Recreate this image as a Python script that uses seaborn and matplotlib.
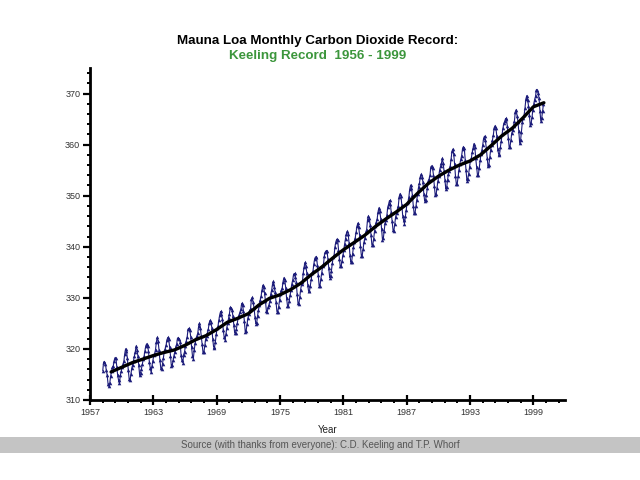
import matplotlib
matplotlib.use("Agg")
import matplotlib.pyplot as plt
import seaborn as sns
import numpy as np
import pandas as pd

# Mauna Loa monthly CO2 (ppm), starting March 1958, one row per year
start_year = 1958
start_month = 3
co2_ppm = [
    315.71, 317.45, 317.50, 317.10, 315.86, 314.93, 313.20, 312.66, 313.33, 314.67,  # 1958
    315.62, 316.38, 316.71, 317.72, 318.29, 318.15, 316.54, 314.80, 313.84, 313.26, 314.80, 315.58,  # 1959
    316.43, 316.97, 317.58, 319.02, 320.03, 319.59, 318.18, 315.91, 314.16, 313.83, 315.00, 316.19,  # 1960
    316.93, 317.70, 318.54, 319.48, 320.58, 319.77, 318.57, 316.79, 314.80, 315.38, 316.10, 317.01,  # 1961
    317.94, 318.56, 319.68, 320.63, 321.01, 320.55, 319.58, 317.40, 316.26, 315.42, 316.69, 317.69,  # 1962
    318.74, 319.08, 319.86, 321.39, 322.25, 321.47, 319.74, 317.77, 316.21, 315.99, 317.12, 318.31,  # 1963
    319.57, 320.07, 320.73, 321.77, 322.25, 321.89, 320.44, 318.70, 316.70, 316.79, 317.79, 318.71,  # 1964
    319.44, 320.44, 320.89, 322.13, 322.16, 321.87, 321.39, 318.81, 317.81, 317.30, 318.87, 319.42,  # 1965
    320.62, 321.59, 322.39, 323.87, 324.01, 323.75, 322.39, 320.37, 318.64, 318.10, 319.79, 321.08,  # 1966
    322.07, 322.50, 323.04, 324.42, 325.00, 324.09, 322.55, 320.92, 319.31, 319.31, 320.72, 321.96,  # 1967
    322.57, 323.15, 323.89, 325.02, 325.57, 325.36, 324.14, 322.03, 320.41, 320.25, 321.31, 322.84,  # 1968
    324.00, 324.42, 325.64, 326.66, 327.34, 326.76, 325.88, 323.67, 322.38, 321.78, 322.85, 324.11,  # 1969
    325.03, 325.99, 326.87, 328.13, 328.07, 327.66, 326.35, 324.69, 323.10, 323.16, 323.98, 325.13,  # 1970
    326.17, 326.68, 327.18, 327.78, 328.92, 328.57, 327.34, 325.46, 323.36, 323.57, 324.80, 326.01,  # 1971
    326.77, 327.63, 327.75, 329.72, 330.07, 329.09, 328.05, 326.32, 324.93, 325.06, 326.50, 327.55,  # 1972
    328.54, 329.56, 330.30, 331.50, 332.48, 332.07, 330.87, 329.31, 327.51, 327.18, 328.16, 328.64,  # 1973
    329.35, 330.71, 331.48, 332.65, 333.20, 332.16, 331.07, 329.12, 327.32, 327.28, 328.30, 329.58,  # 1974
    330.73, 331.46, 331.90, 333.17, 333.94, 333.45, 331.97, 329.95, 328.50, 328.34, 329.37, 330.58,  # 1975
    331.59, 332.75, 333.52, 334.64, 334.77, 334.00, 333.06, 330.68, 328.95, 328.75, 330.15, 331.62,  # 1976
    332.66, 333.13, 334.95, 336.13, 336.93, 336.17, 334.88, 332.56, 331.29, 331.27, 332.41, 333.60,  # 1977
    334.95, 335.25, 336.66, 337.69, 338.03, 338.01, 336.41, 334.41, 332.37, 332.41, 333.75, 334.90,  # 1978
    336.14, 336.69, 338.27, 338.95, 339.21, 339.26, 337.54, 335.75, 333.98, 334.19, 335.31, 336.81,  # 1979
    337.90, 338.34, 340.01, 340.93, 341.48, 341.33, 339.40, 337.70, 336.19, 336.15, 337.27, 338.32,  # 1980
    339.29, 340.55, 341.61, 342.53, 343.03, 342.54, 340.78, 338.44, 336.95, 337.08, 338.58, 339.88,  # 1981
    340.96, 341.73, 342.81, 343.97, 344.63, 343.79, 342.32, 340.09, 338.28, 338.29, 339.60, 340.90,  # 1982
    341.68, 342.90, 343.33, 345.25, 346.03, 345.63, 344.19, 342.27, 340.35, 340.38, 341.59, 343.05,  # 1983
    344.10, 344.79, 345.52, 346.84, 347.63, 346.98, 345.53, 343.55, 341.40, 341.67, 343.10, 344.70,  # 1984
    345.21, 346.16, 347.74, 348.34, 349.06, 348.38, 346.72, 345.02, 343.27, 343.13, 344.49, 345.88,  # 1985
    346.56, 347.28, 348.01, 349.77, 350.38, 349.93, 348.16, 346.08, 345.22, 344.51, 345.93, 347.22,  # 1986
    348.52, 348.73, 349.73, 351.31, 352.09, 351.53, 350.11, 348.08, 346.52, 346.59, 347.96, 349.16,  # 1987
    350.39, 351.64, 352.41, 353.69, 354.21, 353.72, 352.69, 350.40, 348.92, 349.13, 350.20, 351.41,  # 1988
    352.91, 353.27, 353.96, 355.64, 355.86, 355.37, 353.99, 351.81, 350.05, 350.25, 351.49, 352.85,  # 1989
    353.80, 355.04, 355.73, 356.32, 357.32, 356.34, 354.84, 353.01, 351.31, 351.62, 353.07, 354.33,  # 1990
    354.84, 355.73, 357.23, 358.66, 359.13, 358.13, 356.19, 353.85, 352.25, 352.35, 353.81, 355.12,  # 1991
    356.25, 357.11, 357.86, 359.09, 359.59, 359.33, 357.01, 354.94, 352.96, 353.32, 354.32, 355.57,  # 1992
    357.00, 357.31, 358.47, 359.27, 360.19, 359.52, 357.33, 355.64, 354.03, 354.12, 355.41, 356.91,  # 1993
    358.24, 358.92, 359.99, 361.23, 361.65, 360.81, 359.38, 357.46, 355.73, 356.07, 357.53, 358.98,  # 1994
    359.92, 360.86, 361.83, 363.30, 363.69, 363.19, 361.64, 359.12, 358.17, 357.99, 359.45, 360.68,  # 1995
    362.07, 363.24, 364.17, 364.57, 365.13, 364.92, 363.55, 361.38, 359.54, 359.58, 360.89, 362.24,  # 1996
    362.84, 363.66, 364.61, 366.40, 366.84, 365.68, 364.52, 362.57, 360.24, 360.83, 362.49, 364.34,  # 1997
    365.17, 365.78, 367.12, 368.87, 369.59, 368.82, 367.59, 365.72, 363.83, 364.18, 365.36, 366.87,  # 1998
    367.97, 368.83, 369.46, 370.77, 370.66, 370.10, 369.08, 366.66, 364.60, 365.17, 366.51, 367.89,  # 1999
]

# smoothed (deseasonalised) trend, read at each January
trend_years = list(range(1959, 2001))
trend_ppm = [
    315.5, 316.4, 317.3, 318.0, 318.7, 319.3, 319.8, 320.7, 321.8, 322.6,
    323.8, 325.2, 326.0, 326.9, 328.6, 329.9, 330.6, 331.6, 332.9, 334.6,
    336.1, 337.8, 339.4, 340.8, 342.2, 343.9, 345.4, 346.8, 348.3, 350.4,
    352.3, 353.8, 355.0, 356.0, 356.8, 358.0, 359.8, 361.7, 363.2, 365.2,
    367.4, 368.2,
]

x_ticks = [1957, 1963, 1969, 1975, 1981, 1987, 1993, 1999]
y_ticks = [310, 320, 330, 340, 350, 360, 370]

months_index = np.arange(len(co2_ppm)) + (start_month - 1)
monthly = pd.DataFrame({
    "year": start_year + months_index / 12.0 + 1 / 24.0,
    "co2": co2_ppm,
})
trend = pd.DataFrame({"year": trend_years, "co2": trend_ppm})

sns.set_style("white")
plt.rcParams["font.family"] = ["Liberation Sans", "DejaVu Sans"]

fig = plt.figure(figsize=(6.4, 4.8), dpi=100)
ax = fig.add_axes([0.1406, 0.1667, 0.7422, 0.6916])

navy = "#1c1c7a"
sns.lineplot(data=monthly, x="year", y="co2", ax=ax, color=navy, linewidth=0.8,
             marker="^", markersize=2.6, markeredgewidth=0, estimator=None)
sns.lineplot(data=trend, x="year", y="co2", ax=ax, color="black", linewidth=2.4,
             estimator=None)

ax.set_xlim(1957, 2002)
ax.set_ylim(310, 375)
ax.set_xticks(x_ticks)
ax.set_xticklabels([str(v) for v in x_ticks])
ax.set_xticks(np.arange(1957, 2002, 1.2), minor=True)
ax.set_yticks(y_ticks)
ax.set_yticklabels([str(v) for v in y_ticks])
ax.set_yticks(np.arange(310, 375, 2), minor=True)

for s in ["top", "right"]:
    ax.spines[s].set_visible(False)
for s in ["left", "bottom"]:
    ax.spines[s].set_linewidth(2)
    ax.spines[s].set_color("black")

ax.tick_params(axis="both", which="major", labelsize=6.5, labelcolor="#333333",
               length=5, width=1.6, color="black", pad=2)
ax.tick_params(axis="x", which="major", direction="inout", length=7)
ax.tick_params(axis="y", which="major", direction="out")
ax.tick_params(axis="both", which="minor", direction="out", length=2.5,
               width=1.4, color="black")
ax.tick_params(axis="x", which="both", bottom=True)
ax.tick_params(axis="y", which="both", left=True)

ax.set_xlabel("Year", fontsize=7, color="#222222", labelpad=6)
ax.set_ylabel("")

fig.text(0.497, 0.914, "Mauna Loa Monthly Carbon Dioxide Record:",
         ha="center", va="center", fontsize=9.6, fontweight="bold", color="black")
fig.text(0.497, 0.884, "Keeling Record  1956 - 1999",
         ha="center", va="center", fontsize=9.6, fontweight="bold", color="#3c963c")

# grey source bar along the bottom
fig.patches.append(plt.Rectangle((0, 0.056), 1, 0.034, transform=fig.transFigure,
                                 facecolor="#c4c4c4", edgecolor="none", zorder=0))
fig.text(0.5, 0.072, "Source (with thanks from everyone): C.D. Keeling and T.P. Whorf",
         ha="center", va="center", fontsize=7, color="#555555")

fig.savefig("out.png", dpi=100)
